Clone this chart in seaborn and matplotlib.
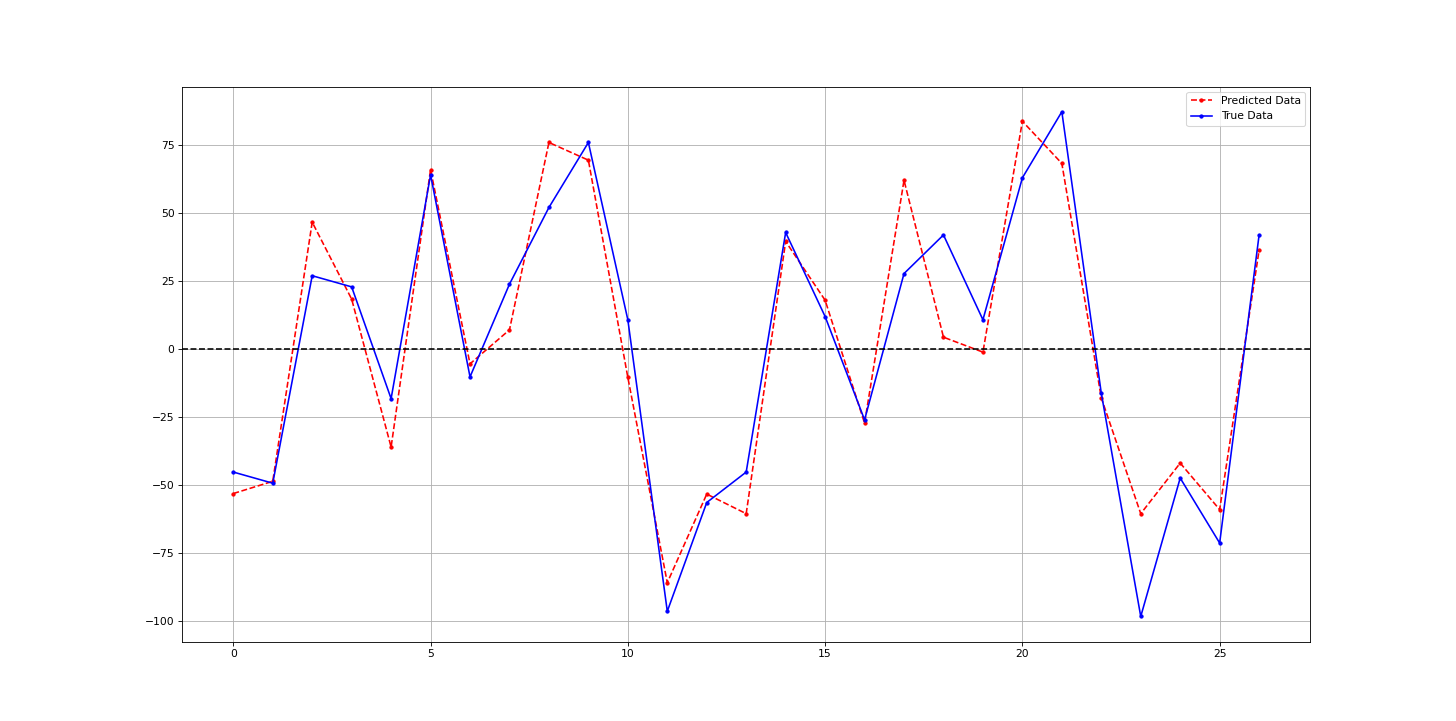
import matplotlib
matplotlib.use("Agg")
import matplotlib.pyplot as plt
import seaborn as sns
import numpy as np

steps = list(range(27))
predicted = [-53.1, -48.6, 46.7, 18.4, -36.0, 66.0, -5.4, 7.1, 76.0, 69.5,
             -10.4, -85.9, -53.3, -60.5, 39.6, 18.0, -27.2, 62.1, 4.4, -1.1,
             83.8, 68.3, -17.9, -60.5, -41.9, -59.0, 36.4]
true_vals = [-45.2, -49.3, 27.0, 22.9, -18.2, 64.1, -10.2, 23.9, 52.1, 76.0,
             10.8, -96.4, -56.4, -45.2, 42.9, 12.0, -26.0, 27.8, 42.0, 10.8,
             63.0, 87.3, -16.2, -98.3, -47.4, -71.3, 42.0]

DPI = 77
fig, ax = plt.subplots(figsize=(1456 / DPI, 721 / DPI), dpi=DPI)

sns.lineplot(x=steps, y=predicted, ax=ax, color="r", linestyle="--", marker=".",
             markeredgecolor="r", markersize=6, markeredgewidth=1,
             label="Predicted Data")
sns.lineplot(x=steps, y=true_vals, ax=ax, color="b", linestyle="-", marker=".",
             markeredgecolor="b", markersize=6, markeredgewidth=1,
             label="True Data")
ax.axhline(0, color="black", linestyle="--")

ax.grid(True)
ax.legend(loc="upper right")

fig.savefig("out.png", dpi=DPI)
